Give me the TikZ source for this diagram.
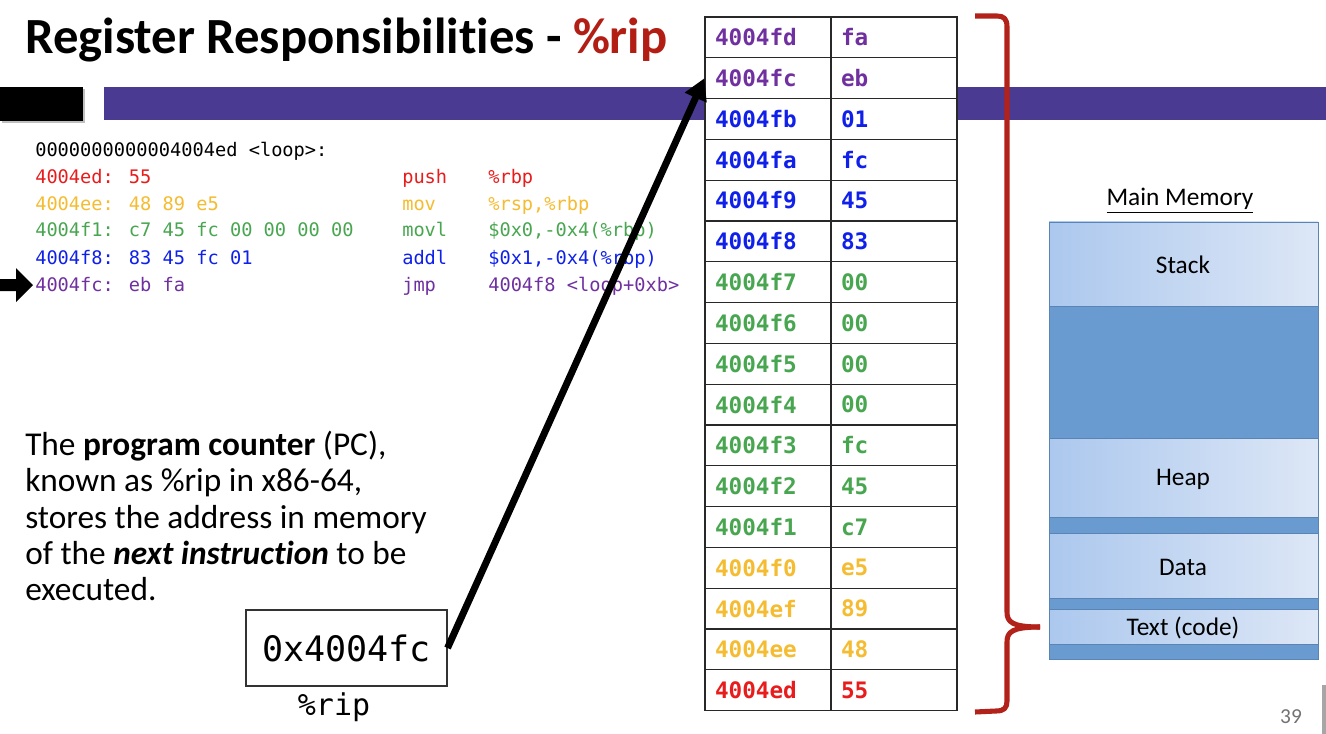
\documentclass[tikz,border=0pt]{standalone}
\usepackage{fontspec}
\setmainfont{Carlito}[Ligatures=NoCommon]
\newfontfamily\monofont{DejaVu Sans Mono}
\usetikzlibrary{arrows.meta}
\definecolor{cpurple}{RGB}{112,48,160}
\definecolor{cblue}{RGB}{16,32,235}
\definecolor{cgreen}{RGB}{72,166,80}
\definecolor{cyellow}{RGB}{245,188,50}
\definecolor{cred}{RGB}{232,28,28}
\definecolor{titlered}{RGB}{178,30,20}
\definecolor{bracketred}{RGB}{178,34,26}
\definecolor{barpurple}{RGB}{74,58,146}
\definecolor{segdark}{RGB}{106,155,208}
\definecolor{segA}{RGB}{172,200,238}
\definecolor{segB}{RGB}{221,231,246}
\definecolor{segborder}{RGB}{90,132,180}
\definecolor{tablegray}{RGB}{40,40,40}
\begin{document}
\begin{tikzpicture}[x=0.75pt,y=-0.75pt,
  codetxt/.style={anchor=base west, inner sep=0pt, font=\monofont\fontsize{14}{16}\selectfont},
  cell/.style={draw=tablegray, line width=0.9pt, fill=white, minimum width=94.5pt,
    minimum height=30.6pt, text width=79.5pt, inner xsep=7.5pt, inner ysep=0pt,
    align=left, font=\monofont\bfseries\fontsize{17}{20}\selectfont},
  para/.style={anchor=base west, inner sep=0pt, font=\fontsize{25}{30}\selectfont},
  seglabel/.style={inner sep=0pt, font=\fontsize{19}{22}\selectfont},
  lightseg/.style={left color=segA, right color=segB, draw=segborder, line width=0.5pt},
  darkseg/.style={fill=segdark, draw=segborder, line width=0.5pt},
  bigarrow/.style={line width=5.2pt, -{Triangle[length=16pt,width=17pt]}},
  brace/.style={draw=bracketred, line width=3.8pt, line join=round}
]
\useasboundingbox (0,0) rectangle (1326,734);
\fill[white] (0,0) rectangle (1326,734);

% header bars
\fill[black!25] (2,89) rectangle (85,123);
\fill[black] (0,87) rectangle (83,121);
\fill[barpurple] (104,87) rectangle (1326,120);

% title
\node[anchor=base west, inner sep=0pt, font=\bfseries\fontsize{38}{40}\selectfont] (title) at (25,54)
  {Register Responsibilities - \textcolor{titlered}{\%rip}};

% code listing
\node[codetxt] (h0) at (35,157) {0000000000004004ed <loop>:};
\node[codetxt, text=cred] (l1a) at (35,184) {4004ed: 55};
\node[codetxt, text=cred] (l1b) at (402,184) {push};
\node[codetxt, text=cred] (l1c) at (488,184) {\%rbp};
\node[codetxt, text=cyellow] (l2a) at (35,211) {4004ee: 48 89 e5};
\node[codetxt, text=cyellow] (l2b) at (402,211) {mov};
\node[codetxt, text=cyellow] (l2c) at (488,211) {\%rsp,\%rbp};
\node[codetxt, text=cgreen] (l3a) at (35,237) {4004f1: c7 45 fc 00 00 00 00};
\node[codetxt, text=cgreen] (l3b) at (402,237) {movl};
\node[codetxt, text=cgreen] (l3c) at (488,237) {\$0x0,-0x4(\%rbp)};
\node[codetxt, text=cblue] (l4a) at (35,264) {4004f8: 83 45 fc 01};
\node[codetxt, text=cblue] (l4b) at (402,264) {addl};
\node[codetxt, text=cblue] (l4c) at (488,264) {\$0x1,-0x4(\%rbp)};
\node[codetxt, text=cpurple] (l5a) at (35,291) {4004fc: eb fa};
\node[codetxt, text=cpurple] (l5b) at (402,291) {jmp};
\node[codetxt, text=cpurple] (l5c) at (488,291) {4004f8 <loop+0xb>};

% current-instruction marker
\fill[black] (0,279) -- (16,279) -- (16,268) -- (33,285) -- (16,302) -- (16,291) -- (0,291) -- cycle;

% memory table
\foreach \a/\v/\c [count=\i] in {4004fd/fa/cpurple, 4004fc/eb/cpurple, 4004fb/01/cblue,
  4004fa/fc/cblue, 4004f9/45/cblue, 4004f8/83/cblue, 4004f7/00/cgreen, 4004f6/00/cgreen,
  4004f5/00/cgreen, 4004f4/00/cgreen, 4004f3/fc/cgreen, 4004f2/45/cgreen, 4004f1/c7/cgreen,
  4004f0/e5/cyellow, 4004ef/89/cyellow, 4004ee/48/cyellow, 4004ed/55/cred} {
  \node[cell, text=\c] (addr\i) at (768,{17+40.8*(\i-0.5)}) {\a};
  \node[cell, text=\c] (val\i) at (894,{17+40.8*(\i-0.5)}) {\v};
}

% red brace
\draw[brace] (975,16) -- (997,16) .. controls (1004,16) and (1007,19) .. (1007,27)
  -- (1007,612) .. controls (1007,622) and (1012,627) .. (1040,627);
\draw[brace] (1040,627) .. controls (1012,627) and (1007,632) .. (1007,642)
  -- (1007,701) .. controls (1007,708) and (1004,711) .. (996,711) -- (975,712);

% main memory
\node[anchor=base, inner sep=0pt, font=\fontsize{19}{22}\selectfont] (mmtitle) at (1180,206) {\underline{Main Memory}};
\shade[lightseg] (1049,222) rectangle (1318,306);
\path[darkseg] (1049,306) rectangle (1318,438);
\shade[lightseg] (1049,438) rectangle (1318,517);
\path[darkseg] (1049,517) rectangle (1318,533);
\shade[lightseg] (1049,533) rectangle (1318,598);
\path[darkseg] (1049,598) rectangle (1318,609);
\shade[lightseg] (1049,609) rectangle (1318,644);
\path[darkseg] (1049,644) rectangle (1318,659);
\node[seglabel] (stack) at (1183,265) {Stack};
\node[seglabel] (heap) at (1183,479) {Heap};
\node[seglabel] (data) at (1183,567) {Data};
\node[seglabel] (text) at (1183,628) {Text (code)};

% explanation
\node[para] (p1) at (25,455) {The \textbf{program counter} (PC),};
\node[para] (p2) at (25,491) {known as \%rip in x86-64,};
\node[para] (p3) at (25,528) {stores the address in memory};
\node[para] (p4) at (25,564) {of the \textbf{\textit{next instruction}} to be};
\node[para] (p5) at (25,600) {executed.};

% register box
\node[draw=black!80, line width=0.8pt, minimum width=150.75pt, minimum height=57pt, inner sep=0pt,
  font=\monofont\fontsize{26.3}{30}\selectfont] (pc) at (346.5,648) {0x4004fc};
\node[anchor=base, inner sep=0pt, font=\monofont\fontsize{22.5}{26}\selectfont] (riplabel) at (334,715) {\%rip};

% pointer arrow
\draw[bigarrow] (pc.east) -- (addr2.west);

% page number
\node[inner sep=0pt, text=black!55, font=\fontsize{16}{18}\selectfont] (pagenum) at (1291,717) {39};
\fill[black!35] (1322,685) rectangle (1326,734);
\end{tikzpicture}
\end{document}
